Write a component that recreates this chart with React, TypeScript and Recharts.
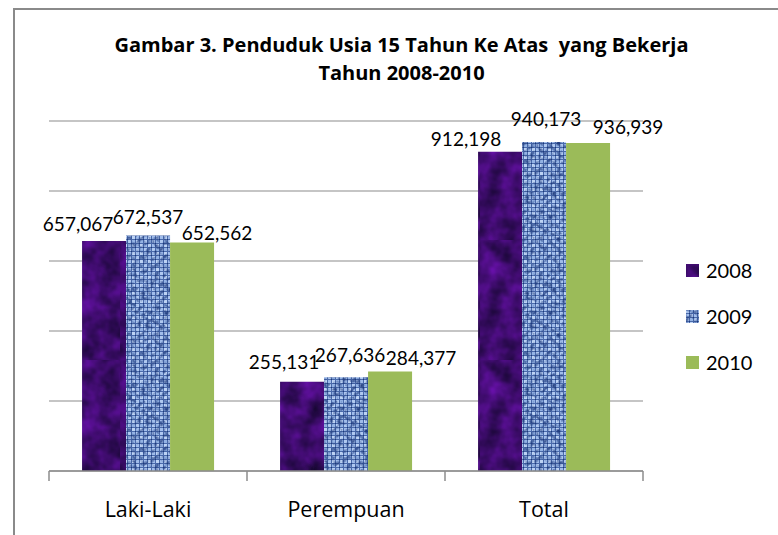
import React from 'react';
import { BarChart, Bar, XAxis, YAxis, CartesianGrid, LabelList } from 'recharts';

const categories = ['Laki-Laki', 'Perempuan', 'Total'];
const years = ['2008', '2009', '2010'];
const values2008 = [657067, 255131, 912198];
const values2009 = [672537, 267636, 940173];
const values2010 = [652562, 284377, 936939];
const yTicks = [0, 200000, 400000, 600000, 800000, 1000000];
const titleLines = ['Gambar 3. Penduduk Usia 15 Tahun Ke Atas  yang Bekerja', 'Tahun 2008-2010'];

const seriesValues = [values2008, values2009, values2010];
const data = categories.map((c, i) => {
  const row: any = { name: c };
  years.forEach((y, s) => (row[y] = seriesValues[s][i]));
  return row;
});

// styling
const FONT = 'Lato, "Noto Sans", sans-serif';
const FONT_WIDE = '"Open Sans", "Noto Sans", sans-serif';
const W = 778;
const H = 535;
const PLOT_LEFT = 49;
const PLOT_RIGHT = 643;
const PLOT_TOP = 121;
const AXIS_Y = 471;
const fills = ['url(#p2008)', 'url(#p2009)', '#9bbb59'];
// label nudges (dx, gap above bar top) per series, per category, mimicking the original label layout
const labelNudge = [
  [[-26, 18], [-18, 20], [-34, 13]],
  [[0, 19], [4, 23], [2, 23]],
  [[25, 10], [31, 14], [40, 17]],
];

const makeLabel = (s: number) => (props: any) => {
  const { x, y, width, value, index } = props;
  const [dx, dy] = labelNudge[s][index];
  return (
    <text
      x={x + width / 2 + dx}
      y={y - dy}
      textAnchor="middle"
      dominantBaseline="central"
      fontFamily={FONT}
      fontSize={19}
      fill="#000"
    >
      {Number(value).toLocaleString('en-US')}
    </text>
  );
};

const CategoryTick = (props: any) => {
  const { x, y, payload, index } = props;
  const band = (PLOT_RIGHT - PLOT_LEFT) / categories.length;
  return (
    <g>
      <line x1={x - band / 2} x2={x - band / 2} y1={y} y2={y + 10} stroke="#8c8c8c" strokeWidth={1.5} />
      {index === categories.length - 1 && (
        <line x1={x + band / 2} x2={x + band / 2} y1={y} y2={y + 10} stroke="#8c8c8c" strokeWidth={1.5} />
      )}
      <text x={x} y={y + 37} textAnchor="middle" dominantBaseline="central" fontFamily={FONT_WIDE} fontSize={21.5} fill="#000">
        {payload.value}
      </text>
    </g>
  );
};

const Defs = () => (
  <defs>
    <filter id="purpleNoise" x="0" y="0" width="100%" height="100%" colorInterpolationFilters="sRGB">
      <feTurbulence type="fractalNoise" baseFrequency="0.05" numOctaves="3" seed="3" result="n" />
      <feColorMatrix
        in="n"
        type="matrix"
        values="0.42 0 0 0 0.03  0.05 0 0 0 0.02  0.62 0 0 0 0.11  0 0 0 0 1"
      />
    </filter>
    <pattern id="p2008" width="120" height="120" patternUnits="userSpaceOnUse">
      <rect width="120" height="120" fill="#3f0c70" filter="url(#purpleNoise)" />
    </pattern>
    <pattern id="weave" width="8" height="8" patternUnits="userSpaceOnUse">
      <rect width="8" height="8" fill="#4a6aab" />
      <rect x="0" y="0" width="3" height="3" fill="#b0c9f0" />
      <rect x="4" y="0" width="3" height="3" fill="#94b3e4" />
      <rect x="0" y="4" width="3" height="3" fill="#a1bdeb" />
      <rect x="4" y="4" width="3" height="3" fill="#bdd3f4" />
      <rect x="3" y="3" width="1" height="1" fill="#1e3a76" />
      <rect x="7" y="7" width="1" height="1" fill="#1e3a76" />
    </pattern>
    <filter id="blueNoise" x="0" y="0" width="100%" height="100%" colorInterpolationFilters="sRGB">
      <feTurbulence type="fractalNoise" baseFrequency="0.22" numOctaves="2" seed="7" result="n" />
      <feColorMatrix
        in="n"
        type="matrix"
        values="0 0 0 0 0.13  0 0 0 0 0.24  0 0 0 0 0.5  2.4 0 0 0 -1.05"
      />
    </filter>
    <pattern id="p2009" width="96" height="96" patternUnits="userSpaceOnUse">
      <rect width="96" height="96" fill="url(#weave)" />
      <rect width="96" height="96" fill="#000" filter="url(#blueNoise)" />
    </pattern>
  </defs>
);

export default function App() {
  return (
    <div style={{ position: 'absolute', left: 0, top: 0, width: W, height: H, overflow: 'hidden', background: '#fff' }}>
      <div
        style={{
          position: 'absolute',
          left: 13,
          top: 8,
          width: 900,
          height: 700,
          border: '2px solid #8a8a8a',
        }}
      />
      <div
        style={{
          position: 'absolute',
          left: 0,
          width: 803,
          top: 31,
          textAlign: 'center',
          fontFamily: FONT_WIDE,
          fontWeight: 'bold',
          fontSize: 20,
          lineHeight: '28px',
          color: '#000',
          whiteSpace: 'pre',
        }}
      >
        {titleLines.map((t, i) => (
          <div key={i}>{t}</div>
        ))}
      </div>
      <div style={{ position: 'absolute', left: 0, top: 0 }}>
        <BarChart
          width={W}
          height={H}
          data={data}
          margin={{ top: PLOT_TOP, right: W - PLOT_RIGHT, left: PLOT_LEFT, bottom: H - AXIS_Y - 60 }}
          barCategoryGap="16.7%"
          barGap={0}
        >
          <Defs />
          <CartesianGrid vertical={false} stroke="#8c8c8c" strokeWidth={1.2} />
          <YAxis hide domain={[0, 1000000]} ticks={yTicks} />
          <XAxis
            dataKey="name"
            height={60}
            tickSize={0}
            tickMargin={0}
            tickLine={false}
            axisLine={{ stroke: '#8c8c8c', strokeWidth: 1.5 }}
            tick={<CategoryTick />}
            interval={0}
          />
          {years.map((y, s) => (
            <Bar key={y} dataKey={y} fill={fills[s]} isAnimationActive={false}>
              <LabelList dataKey={y} content={makeLabel(s)} />
            </Bar>
          ))}
        </BarChart>
      </div>
      {years.map((y, s) => (
        <div
          key={y}
          style={{
            position: 'absolute',
            left: 686,
            top: 270 + s * 46 - 14,
            height: 28,
            display: 'flex',
            alignItems: 'center',
            fontFamily: FONT,
            fontSize: 20,
            color: '#000',
          }}
        >
          <svg width={13} height={13} style={{ display: 'block' }}>
            <rect width={13} height={13} fill={fills[s]} />
          </svg>
          <span style={{ marginLeft: 7 }}>{y}</span>
        </div>
      ))}
    </div>
  );
}
